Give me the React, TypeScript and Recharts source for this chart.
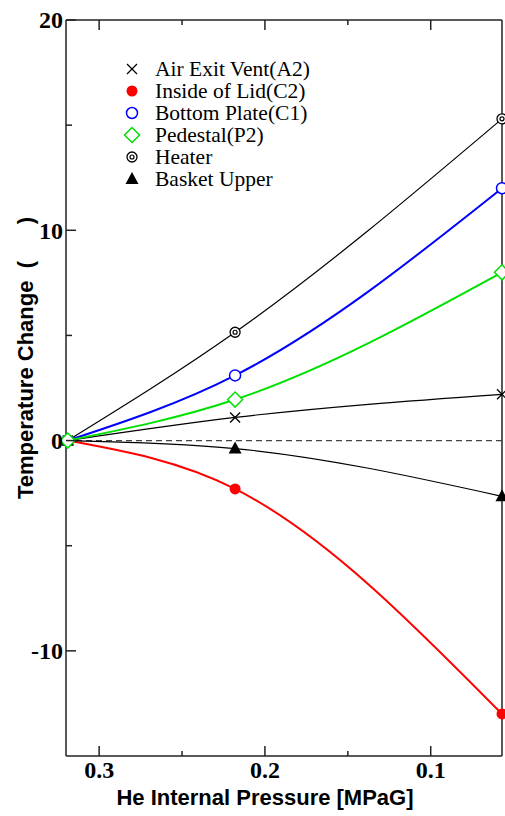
import { LineChart, Line, XAxis, YAxis, ReferenceLine } from "recharts";

// He internal pressure [MPaG] for the three measurements
const pressure = [0.319, 0.218, 0.057];

// temperature change per sensor
const airExitVent = [0, 1.1, 2.2];
const insideOfLid = [0, -2.3, -13.0];
const bottomPlate = [0, 3.1, 12.0];
const pedestal = [0, 1.95, 8.0];
const heater = [0, 5.15, 15.3];
const basketUpper = [0, -0.38, -2.65];

const xTicks = [0.3, 0.25, 0.2, 0.15, 0.1];
const xTickLabels = ["0.3", "", "0.2", "", "0.1"];
const yTicks = [-10, -5, 0, 5, 10, 15, 20];
const yTickLabels = ["-10", "", "0", "", "10", "", "20"];

const legendNames = [
  "Air Exit Vent(A2)",
  "Inside of Lid(C2)",
  "Bottom Plate(C1)",
  "Pedestal(P2)",
  "Heater",
  "Basket Upper",
];

const data = pressure.map((p, i) => ({
  p,
  a2: airExitVent[i],
  c2: insideOfLid[i],
  c1: bottomPlate[i],
  p2: pedestal[i],
  heater: heater[i],
  basket: basketUpper[i],
}));

const X_DOMAIN = [0.057, 0.32];
const Y_DOMAIN = [-15, 20];

const AXIS = "#222";
const SERIF = "'Liberation Serif', 'Times New Roman', serif";
const SANS = "'Liberation Sans', Arial, sans-serif";
const GREEN = "#00e000";

function YTick(props: any) {
  const { x, y, payload } = props;
  const label = yTickLabels[yTicks.indexOf(payload.value)];
  const len = label ? 10 : 6;
  return (
    <g>
      <line x1={x} x2={x + len} y1={y} y2={y} stroke={AXIS} strokeWidth={1.5} />
      {label && (
        <text x={x - 3} y={y} dy="0.35em" textAnchor="end" fontFamily={SERIF} fontWeight="bold" fontSize={24} fill="#000">
          {label}
        </text>
      )}
    </g>
  );
}

function XTick(props: any) {
  const { x, y, payload } = props;
  const label = xTickLabels[xTicks.indexOf(payload.value)];
  const len = label ? 10 : 5;
  return (
    <g>
      <line x1={x} x2={x} y1={y} y2={y - len} stroke={AXIS} strokeWidth={1.5} />
      {label && (
        <text x={x} y={y + 22} textAnchor="middle" fontFamily={SERIF} fontWeight="bold" fontSize={24} fill="#000">
          {label}
        </text>
      )}
    </g>
  );
}

// short inward tick on the top frame line
const topTick = (len: number) => (p: any) => {
  const top = Math.min(p.y1, p.y2);
  return <line x1={p.x1} x2={p.x1} y1={top} y2={top + len} stroke={AXIS} strokeWidth={1.5} />;
};

// markers
const crossMark = (cx: number, cy: number) => (
  <g>
    <line x1={cx - 5} x2={cx + 5} y1={cy - 5} y2={cy + 5} stroke="#000" strokeWidth={1.3} />
    <line x1={cx - 5} x2={cx + 5} y1={cy + 5} y2={cy - 5} stroke="#000" strokeWidth={1.3} />
  </g>
);
const redDot = (cx: number, cy: number) => <circle cx={cx} cy={cy} r={5.5} fill="#ff0000" />;
const blueRing = (cx: number, cy: number) => (
  <circle cx={cx} cy={cy} r={5.5} fill="#fff" stroke="#0000ff" strokeWidth={1.5} />
);
const greenDiamond = (cx: number, cy: number) => (
  <polygon
    points={`${cx},${cy - 7.5} ${cx + 7.5},${cy} ${cx},${cy + 7.5} ${cx - 7.5},${cy}`}
    fill="#fff"
    stroke={GREEN}
    strokeWidth={1.5}
  />
);
const heaterMark = (cx: number, cy: number) => (
  <g>
    <circle cx={cx} cy={cy} r={5} fill="#fff" stroke="#000" strokeWidth={1.3} />
    <circle cx={cx} cy={cy} r={2} fill="#fff" stroke="#000" strokeWidth={1.2} />
  </g>
);
const triangleMark = (cx: number, cy: number) => (
  <polygon points={`${cx},${cy - 7} ${cx + 6.5},${cy + 5} ${cx - 6.5},${cy + 5}`} fill="#000" />
);

const dotFn = (mark: (cx: number, cy: number) => any) => (props: any) => (
  <g key={`d-${props.index}`}>{mark(props.cx, props.cy)}</g>
);

const legendMarks = [crossMark, redDot, blueRing, greenDiamond, heaterMark, triangleMark];

function YLabel(props: any) {
  const vb = props.viewBox;
  const cx = vb.x + 25;
  const cy = 358;
  return (
    <text
      x={cx}
      y={cy}
      transform={`rotate(-90 ${cx} ${cy})`}
      textAnchor="middle"
      dy="0.35em"
      fontFamily={SANS}
      fontWeight="bold"
      fontSize={22}
      fill="#000"
      style={{ whiteSpace: "pre" }}
    >
      {"Temperature Change  (      )"}
    </text>
  );
}

function XLabel(props: any) {
  const vb = props.viewBox;
  return (
    <text x={vb.x + vb.width / 2 - 19} y={vb.y + 49} textAnchor="middle" fontFamily={SANS} fontWeight="bold" fontSize={22} fill="#000">
      He Internal Pressure [MPaG]
    </text>
  );
}

export default function App() {
  return (
    <div style={{ position: "absolute", left: 0, top: 0, width: 505, height: 816, background: "#fff" }}>
      <LineChart width={505} height={816} data={data} margin={{ top: 20, right: 3, bottom: 0, left: 0 }}>
        <XAxis
          dataKey="p"
          type="number"
          reversed
          domain={X_DOMAIN}
          ticks={xTicks}
          interval={0}
          height={60}
          tickSize={0}
          tickMargin={0}
          tick={<XTick />}
          axisLine={{ stroke: AXIS, strokeWidth: 1.5 }}
          label={<XLabel />}
        />
        <YAxis
          type="number"
          domain={Y_DOMAIN}
          ticks={yTicks}
          interval={0}
          width={66}
          tickSize={0}
          tickMargin={0}
          tick={<YTick />}
          axisLine={{ stroke: AXIS, strokeWidth: 1.5 }}
          label={<YLabel />}
        />
        {/* frame: top and right */}
        <ReferenceLine y={Y_DOMAIN[1]} stroke={AXIS} strokeWidth={1.5} />
        <ReferenceLine x={X_DOMAIN[0]} stroke={AXIS} strokeWidth={1.5} />
        {xTicks.map((t, i) => (
          <ReferenceLine key={`tt-${t}`} x={t} stroke={AXIS} shape={topTick(xTickLabels[i] ? 10 : 5)} />
        ))}
        <ReferenceLine y={0} stroke="#444" strokeDasharray="6 4" strokeWidth={1.2} />
        <Line dataKey="a2" type="monotone" stroke="#000" strokeWidth={1.2} dot={dotFn(crossMark)} activeDot={false} isAnimationActive={false} />
        <Line dataKey="c2" type="monotone" stroke="#ff0000" strokeWidth={2} dot={dotFn(redDot)} activeDot={false} isAnimationActive={false} />
        <Line dataKey="c1" type="monotone" stroke="#0000ff" strokeWidth={2} dot={dotFn(blueRing)} activeDot={false} isAnimationActive={false} />
        <Line dataKey="heater" type="monotone" stroke="#000" strokeWidth={1.2} dot={dotFn(heaterMark)} activeDot={false} isAnimationActive={false} />
        <Line dataKey="basket" type="monotone" stroke="#000" strokeWidth={1.2} dot={dotFn(triangleMark)} activeDot={false} isAnimationActive={false} />
        <Line dataKey="p2" type="monotone" stroke={GREEN} strokeWidth={2} dot={dotFn(greenDiamond)} activeDot={false} isAnimationActive={false} />
      </LineChart>
      <div style={{ position: "absolute", left: 120, top: 58, fontFamily: SERIF, fontSize: 21.5, lineHeight: "22px", color: "#000" }}>
        {legendNames.map((name, i) => (
          <div key={name} style={{ display: "flex", alignItems: "center", height: 22 }}>
            <svg width={26} height={20} style={{ marginRight: 9 }}>
              {legendMarks[i](12, 10)}
            </svg>
            <span>{name}</span>
          </div>
        ))}
      </div>
    </div>
  );
}
